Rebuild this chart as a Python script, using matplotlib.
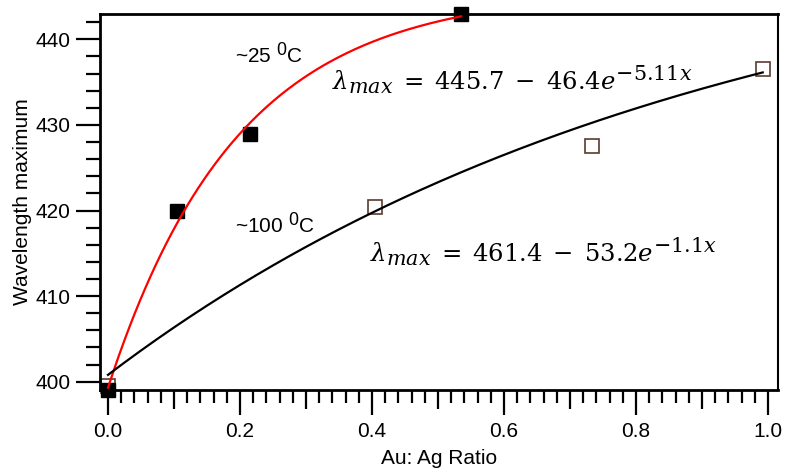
import numpy as np
import matplotlib.pyplot as plt
import matplotlib._mathtext as mt

plt.rcParams['font.family'] = ['Liberation Sans', 'DejaVu Sans']
plt.rcParams['mathtext.fontset'] = 'dejavuserif'
mt.SHRINK_FACTOR = 0.85  # larger sub/superscripts, like the original

# measured points
ratio_25 = [0.0, 0.105, 0.215, 0.535]
wl_25 = [399.0, 420.0, 429.0, 443.0]
ratio_100 = [0.0, 0.405, 0.733, 0.992]
wl_100 = [399.5, 420.4, 427.5, 436.5]

# fitted curves (a - b*exp(-k*x)), as drawn
fit_25 = (445.7, 46.4, 5.11)
fit_100 = (454.0, 53.2, 1.1)

fig = plt.figure(figsize=(7.87, 4.72), dpi=100)
ax = fig.add_axes([0.1271, 0.1737, 0.8615, 0.7966])

x1 = np.linspace(0, ratio_25[-1], 200)
x2 = np.linspace(0, ratio_100[-1], 200)
a, b, k = fit_25
ax.plot(x1, a - b * np.exp(-k * x1), color='#ff0000', lw=1.6, zorder=3)
a, b, k = fit_100
ax.plot(x2, a - b * np.exp(-k * x2), color='black', lw=1.6, zorder=3)

ax.plot(ratio_100, wl_100, 's', ms=10, mfc='white', mec='#5a3b30', mew=1.2,
        clip_on=False, zorder=2)
ax.plot(ratio_25, wl_25, 's', ms=10, mfc='black', mec='black',
        clip_on=False, zorder=2)

ax.set_xlim(-0.0121, 1.0152)
ax.set_ylim(399.03, 442.96)

ax.set_xticks(np.arange(0, 1.01, 0.2))
ax.set_xticklabels(['0.0', '0.2', '0.4', '0.6', '0.8', '1.0'])
minor_x = np.round(np.arange(0, 1.001, 0.02), 2)
minor_x = [v for v in minor_x if round(v / 0.2, 6) % 1 != 0]
ax.set_xticks(minor_x, minor=True)
ax.set_yticks([400, 410, 420, 430, 440])
ax.set_yticks(np.arange(400, 443, 2), minor=True)

ax.tick_params(which='major', direction='out', length=18, width=1.6,
               labelsize=15, pad=5)
ax.tick_params(which='minor', direction='out', length=9, width=1.6)
ax.tick_params(axis='y', which='minor', length=10)
ax.tick_params(axis='y', which='major', length=17, pad=4)
# medium ticks at 0.1, 0.3, ...
for t, v in zip(ax.xaxis.get_minor_ticks(), minor_x):
    if abs(round(v / 0.1) - v / 0.1) < 1e-6:
        t.tick1line.set_markersize(14)

for s in ['left', 'bottom', 'top']:
    ax.spines[s].set_linewidth(2)
ax.spines['right'].set_linewidth(1.5)

ax.set_xlabel('Au: Ag Ratio', fontsize=15, labelpad=6)
ax.set_ylabel('Wavelength maximum', fontsize=15, labelpad=3)

ax.text(0.192, 437.2, r'~25 $\mathregular{^0}$C', fontsize=15, va='baseline')
ax.text(0.192, 417.35, r'~100 $\mathregular{^0}$C', fontsize=15, va='baseline')
ax.text(0.339, 434.05, r'$\lambda_{max}\;=\;445.7\;-\;46.4e^{-5.11x}$',
        fontsize=17.5, va='baseline')
ax.text(0.397, 414.0, r'$\lambda_{max}\;=\;461.4\;-\;53.2e^{-1.1x}$',
        fontsize=17.5, va='baseline')

fig.savefig('out.png', dpi=100)
